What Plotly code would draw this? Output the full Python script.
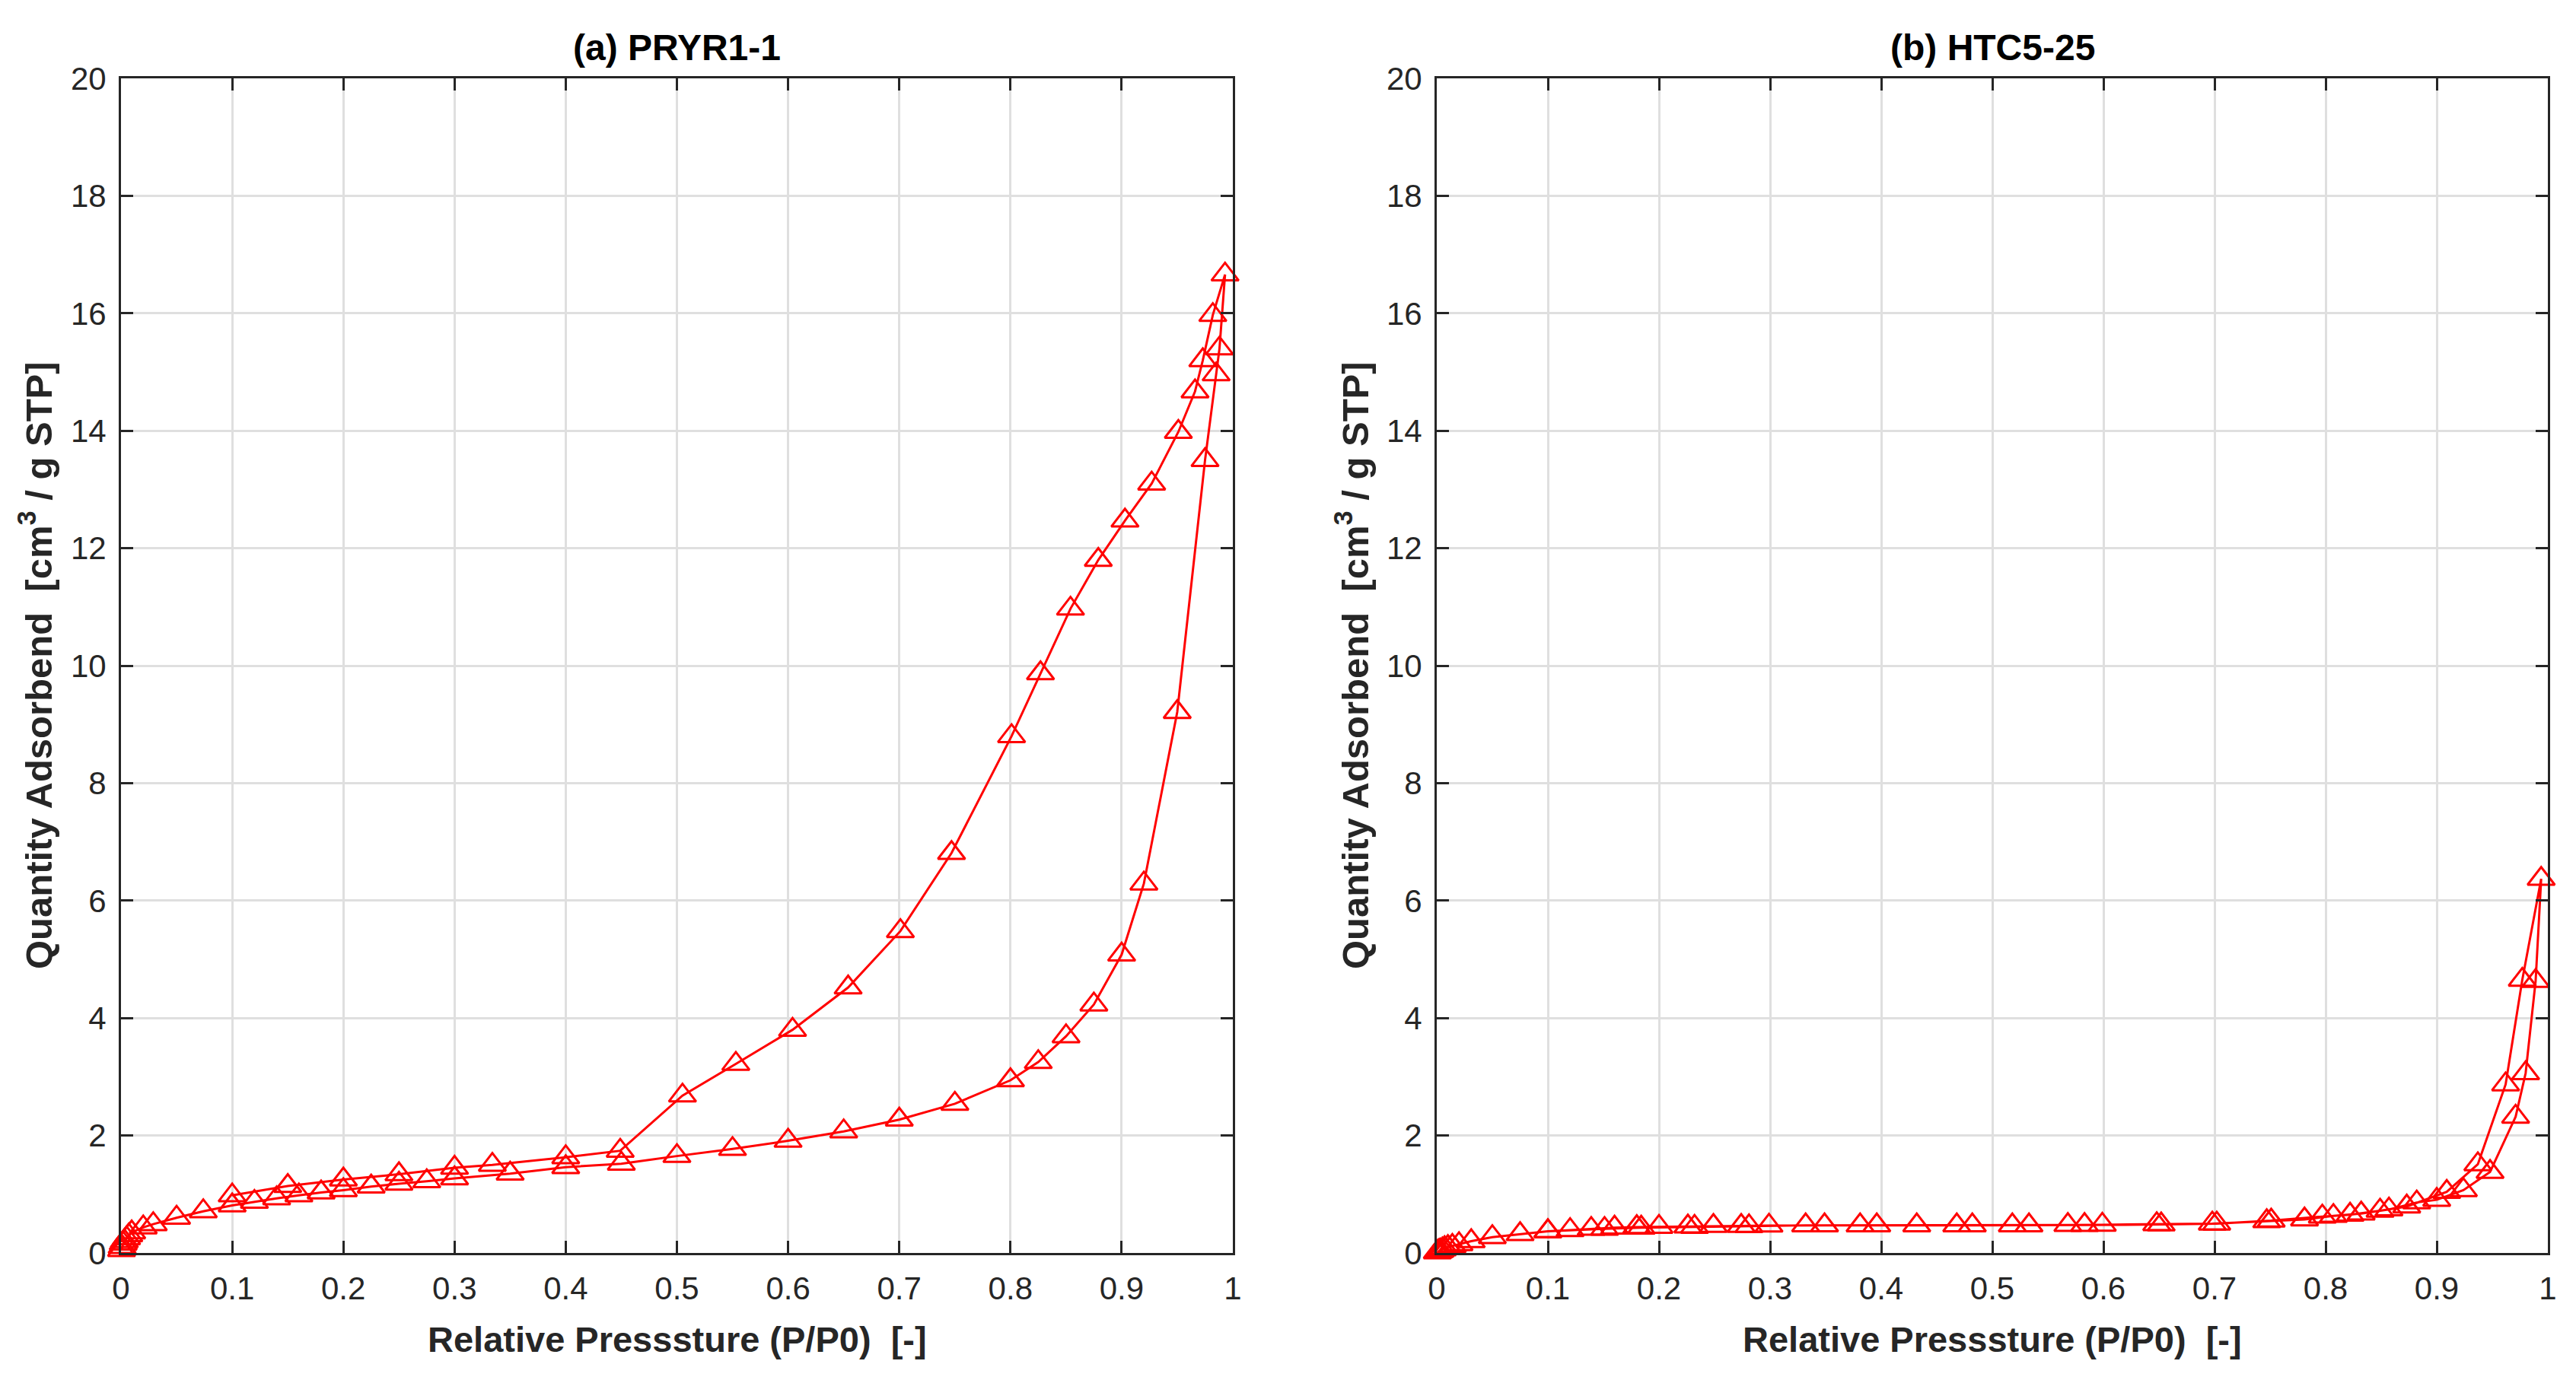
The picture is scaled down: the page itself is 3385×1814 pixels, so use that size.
import plotly.graph_objects as go

# ---------------- data ----------------
# (a) PRYR1-1  adsorption branch then desorption branch
pa_ads = [0.0005, 0.001, 0.002, 0.003, 0.005, 0.007, 0.0096, 0.02, 0.029, 0.05, 0.074,
          0.1, 0.12, 0.14, 0.16, 0.18, 0.2, 0.225, 0.25, 0.275, 0.3, 0.35, 0.4, 0.45,
          0.5, 0.55, 0.6, 0.65, 0.7, 0.75, 0.8, 0.825, 0.85, 0.875, 0.9, 0.92, 0.95,
          0.975, 0.985, 0.988, 0.993]
qa_ads = [0.05, 0.1, 0.16, 0.2, 0.25, 0.3, 0.35, 0.435, 0.49, 0.6, 0.71,
          0.81, 0.87, 0.93, 0.98, 1.03, 1.07, 1.13, 1.18, 1.22, 1.27, 1.35, 1.46, 1.52,
          1.65, 1.77, 1.91, 2.07, 2.27, 2.54, 2.94, 3.25, 3.69, 4.23, 5.08, 6.29, 9.21,
          13.5, 14.96, 15.4, 16.66]
pa_des = [0.982, 0.973, 0.966, 0.951, 0.927, 0.903, 0.879, 0.854, 0.827, 0.801, 0.747,
          0.701, 0.654, 0.604, 0.553, 0.505, 0.449, 0.4, 0.334, 0.3, 0.25, 0.2, 0.15, 0.1]
qa_des = [15.97, 15.2, 14.67, 13.98, 13.1, 12.47, 11.8, 10.97, 9.87, 8.8, 6.81,
          5.48, 4.52, 3.8, 3.22, 2.68, 1.74, 1.63, 1.5, 1.45, 1.34, 1.25, 1.14, 0.98]

# (b) HTC5-25  adsorption branch then desorption branch
pb_ads = [0.0005, 0.001, 0.002, 0.003, 0.005, 0.007, 0.01, 0.014, 0.02, 0.031, 0.05,
          0.075, 0.1, 0.12, 0.139, 0.16, 0.18, 0.2, 0.226, 0.249, 0.274, 0.299, 0.349,
          0.396, 0.468, 0.518, 0.568, 0.599, 0.648, 0.698, 0.747, 0.781, 0.807, 0.832,
          0.857, 0.882, 0.9, 0.924, 0.948, 0.971, 0.98, 0.989, 0.994]
qb_ads = [0.01, 0.02, 0.03, 0.04, 0.06, 0.08, 0.1, 0.12, 0.15, 0.2, 0.27,
          0.32, 0.37, 0.39, 0.41, 0.43, 0.44, 0.445, 0.45, 0.46, 0.46, 0.465, 0.47,
          0.47, 0.47, 0.47, 0.475, 0.48, 0.49, 0.5, 0.54, 0.57, 0.63, 0.67,
          0.74, 0.86, 0.905, 1.07, 1.38, 2.32, 3.06, 4.63, 6.37]
pb_des = [0.977, 0.962, 0.937, 0.909, 0.873, 0.849, 0.822, 0.797, 0.751, 0.702, 0.652,
          0.583, 0.533, 0.482, 0.432, 0.381, 0.332, 0.281, 0.232, 0.184, 0.151, 0.1]
qb_des = [4.65, 2.87, 1.51, 1.04, 0.79, 0.72, 0.65, 0.62, 0.55, 0.5, 0.485,
          0.475, 0.47, 0.47, 0.47, 0.47, 0.47, 0.455, 0.445, 0.43, 0.41, 0.37]

x_ticks = [0, 0.1, 0.2, 0.3, 0.4, 0.5, 0.6, 0.7, 0.8, 0.9, 1]
x_ticklabels = ["0", "0.1", "0.2", "0.3", "0.4", "0.5", "0.6", "0.7", "0.8", "0.9", "1"]
y_ticks = [0, 2, 4, 6, 8, 10, 12, 14, 16, 18, 20]
y_ticklabels = [str(v) for v in y_ticks]

titles = ["(a) PRYR1-1", "(b) HTC5-25"]
x_title = "Relative Presssture (P/P0)\u00a0\u00a0[-]"
y_title = "Quantity Adsorbend\u00a0\u00a0[cm<sup>3</sup> / g STP]"

# ---------------- figure ----------------
W, H = 3385, 1814
FONT = "Liberation Sans, Arial, Helvetica, sans-serif"
DARK = "#262626"
RED = "#ff0000"

fig = go.Figure()

for i, (px_, qx_) in enumerate([(pa_ads + pa_des, qa_ads + qa_des),
                                (pb_ads + pb_des, qb_ads + qb_des)]):
    sfx = "" if i == 0 else "2"
    fig.add_trace(go.Scatter(
        x=px_, y=qx_, mode="lines+markers",
        xaxis="x" + sfx, yaxis="y" + sfx,
        line=dict(color=RED, width=3),
        marker=dict(symbol="triangle-up-open", size=31, color=RED,
                    line=dict(color=RED, width=3)),
        showlegend=False, cliponaxis=False,
    ))

x_domains = [[159 / W, 1620 / W], [1888 / W, 3348 / W]]
y_domain = [(H - 1647) / H, (H - 103) / H]

axis_common = dict(
    showline=True, linecolor=DARK, linewidth=3, mirror="ticks",
    ticks="inside", ticklen=16, tickwidth=2.5, tickcolor=DARK,
    showgrid=True, gridcolor="#dfdfdf", gridwidth=2.5,
    zeroline=False,
    tickfont=dict(family=FONT, size=42, color=DARK),
)

for i in range(2):
    sfx = "" if i == 0 else "2"
    xa = dict(axis_common, domain=x_domains[i], range=[0, 1],
              tickmode="array", tickvals=x_ticks, ticktext=x_ticklabels,
              anchor="y" + sfx, ticklabelstandoff=8)
    ya = dict(axis_common, domain=y_domain, range=[0, 20],
              tickmode="array", tickvals=y_ticks, ticktext=y_ticklabels,
              anchor="x" + sfx, ticklabelstandoff=8)
    fig.update_layout(**{"xaxis" + sfx: xa, "yaxis" + sfx: ya})

annotations = []
centers = [(159 + 1620) / 2 / W, (1888 + 3348) / 2 / W]
ylab_x = [47 / W, 1777 / W]
for i in range(2):
    annotations.append(dict(
        text="<b>" + titles[i] + "</b>", x=centers[i], y=(H - 62) / H,
        xref="paper", yref="paper", xanchor="center", yanchor="middle",
        showarrow=False, font=dict(family=FONT, size=48, color="#000000")))
    annotations.append(dict(
        text="<b>" + x_title + "</b>", x=centers[i], y=(H - 1760) / H,
        xref="paper", yref="paper", xanchor="center", yanchor="middle",
        showarrow=False, font=dict(family=FONT, size=47, color=DARK)))
    annotations.append(dict(
        text="<b>" + y_title + "</b>", x=ylab_x[i], y=(H - 875) / H,
        xref="paper", yref="paper", xanchor="center", yanchor="middle",
        textangle=-90, showarrow=False,
        font=dict(family=FONT, size=49, color=DARK)))

fig.update_layout(
    autosize=True,
    margin=dict(l=0, r=0, t=0, b=0, autoexpand=False),
    paper_bgcolor="white", plot_bgcolor="white",
    annotations=annotations,
)

fig.write_html("out.html")
